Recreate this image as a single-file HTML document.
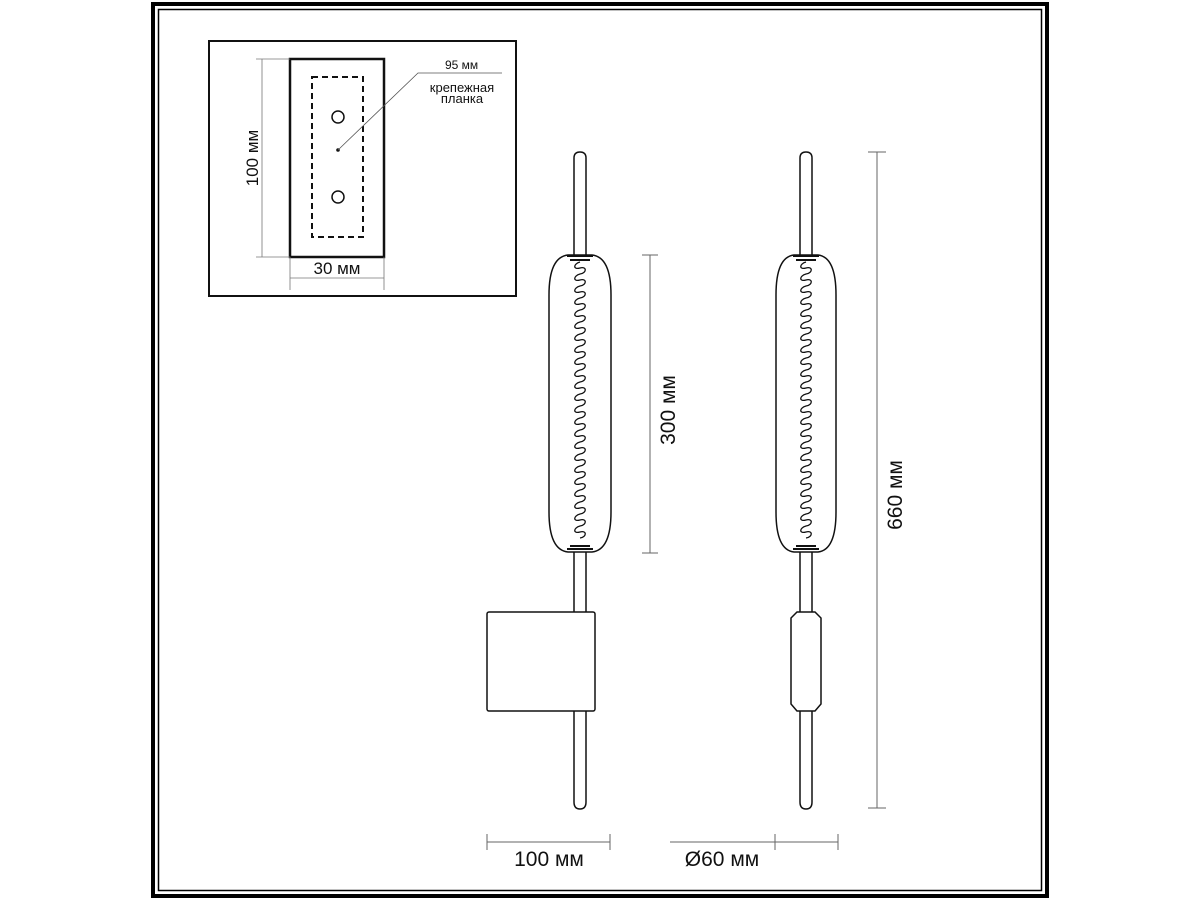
<!DOCTYPE html>
<html><head><meta charset="utf-8"><style>
html,body{margin:0;padding:0;background:#fff;width:1200px;height:900px;overflow:hidden}
svg{display:block}
text{font-family:"Liberation Sans",sans-serif;fill:#111}
</style></head><body>
<svg id="s" width="1200" height="900" viewBox="0 0 1200 900" xmlns="http://www.w3.org/2000/svg">
<rect x="0" y="0" width="1200" height="900" fill="#fff"/>
<rect x="153" y="4" width="894" height="892" fill="none" stroke="#000" stroke-width="4"/>
<rect x="158.5" y="9.5" width="883" height="881" fill="none" stroke="#000" stroke-width="1.5"/>

<rect x="209" y="41" width="307" height="255" fill="none" stroke="#111" stroke-width="2"/>
<rect x="290" y="59" width="94" height="198" fill="none" stroke="#111" stroke-width="2.5"/>
<rect x="312" y="77" width="51" height="160" fill="none" stroke="#111" stroke-width="2" stroke-dasharray="6,4"/>
<circle cx="338" cy="117" r="6" fill="none" stroke="#111" stroke-width="1.5"/>
<circle cx="338" cy="197" r="6" fill="none" stroke="#111" stroke-width="1.5"/>
<circle cx="338" cy="150" r="1.8" fill="#111"/>
<polyline points="338,150 418,73 502,73" fill="none" stroke="#555" stroke-width="0.8"/>
<text x="445" y="69" font-size="12">95 мм</text>
<text x="462" y="92" font-size="13" text-anchor="middle">крепежная</text>
<text x="462" y="103" font-size="13" text-anchor="middle">планка</text>
<line x1="262" y1="59" x2="262" y2="257" stroke="#777" stroke-width="0.8"/>
<line x1="256" y1="59" x2="290" y2="59" stroke="#777" stroke-width="0.8"/>
<line x1="256" y1="257" x2="290" y2="257" stroke="#777" stroke-width="0.8"/>
<text transform="translate(258,158) rotate(-90)" font-size="17" text-anchor="middle">100 мм</text>
<line x1="290" y1="257" x2="290" y2="290" stroke="#777" stroke-width="0.8"/>
<line x1="384" y1="257" x2="384" y2="290" stroke="#777" stroke-width="0.8"/>
<line x1="290" y1="278" x2="384" y2="278" stroke="#777" stroke-width="0.8"/>
<text x="337" y="274" font-size="17" text-anchor="middle">30 мм</text>

<g id="lamps" fill="none" stroke="#111" stroke-width="1.5"></g>

<rect x="487" y="612" width="108" height="99" rx="2" fill="#fff" stroke="#111" stroke-width="1.5"/>
<path d="M797,612 L815,612 L821,618 L821,704 L815,711 L797,711 L791,704 L791,618 Z" fill="#fff" stroke="#111" stroke-width="1.5"/>

<g stroke="#666" stroke-width="1">
<line x1="650" y1="255" x2="650" y2="553"/>
<line x1="642" y1="255" x2="658" y2="255"/>
<line x1="642" y1="553" x2="658" y2="553"/>
<line x1="877" y1="152" x2="877" y2="808"/>
<line x1="868" y1="152" x2="886" y2="152"/>
<line x1="868" y1="808" x2="886" y2="808"/>
<line x1="487" y1="842" x2="610" y2="842"/>
<line x1="487" y1="834" x2="487" y2="850"/>
<line x1="610" y1="834" x2="610" y2="850"/>
<line x1="670" y1="842" x2="838" y2="842"/>
<line x1="775" y1="834" x2="775" y2="850"/>
<line x1="838" y1="834" x2="838" y2="850"/>
</g>
<text transform="translate(675,410) rotate(-90)" font-size="21" text-anchor="middle">300 мм</text>
<text transform="translate(902,495) rotate(-90)" font-size="21" text-anchor="middle">660 мм</text>
<text x="549" y="866" font-size="21" text-anchor="middle">100 мм</text>
<text x="722" y="866" font-size="21" text-anchor="middle">Ø60 мм</text>
</svg>
<script>
var g=document.getElementById('lamps');var NS='http://www.w3.org/2000/svg';
function p(d,w){var e=document.createElementNS(NS,'path');e.setAttribute('d',d);if(w)e.setAttribute('stroke-width',w);g.appendChild(e);}
function lamp(cx,glassL,glassR){
 var rl=cx-6,rr=cx+6;
 p('M'+rl+',255 L'+rl+',158 Q'+rl+',152 '+cx+',152 Q'+rr+',152 '+rr+',158 L'+rr+',255');
 p('M'+rl+',552 L'+rl+',802 Q'+rl+',809 '+cx+',809 Q'+rr+',809 '+rr+',802 L'+rr+',552');
 var t=255,b=552;
 p('M'+(cx-12)+','+t+' L'+(cx+12)+','+t+' Q'+glassR+','+(t+2)+' '+glassR+','+(t+40)+' L'+glassR+','+(b-40)+' Q'+glassR+','+(b-2)+' '+(cx+12)+','+b+' L'+(cx-12)+','+b+' Q'+glassL+','+(b-2)+' '+glassL+','+(b-40)+' L'+glassL+','+(t+40)+' Q'+glassL+','+(t+2)+' '+(cx-12)+','+t+' Z');
 p('M'+(cx-13)+',256 L'+(cx+13)+',256 M'+(cx-10)+',260 L'+(cx+10)+',260',2);
 p('M'+(cx-13)+',549 L'+(cx+13)+',549 M'+(cx-10)+',546 L'+(cx+10)+',546',2);
 var d='M'+cx+',262';var y=262;
 while(y<538){d+=' C'+(cx-7)+','+(y+2)+' '+(cx-7)+','+(y+8)+' '+cx+','+(y+6)+' C'+(cx+7)+','+(y+4)+' '+(cx+7)+','+(y+11)+' '+cx+','+(y+12);y+=12;}
 p(d,1.3);
}
lamp(580,549,611);
lamp(806,776,836);
</script>
</body></html>
